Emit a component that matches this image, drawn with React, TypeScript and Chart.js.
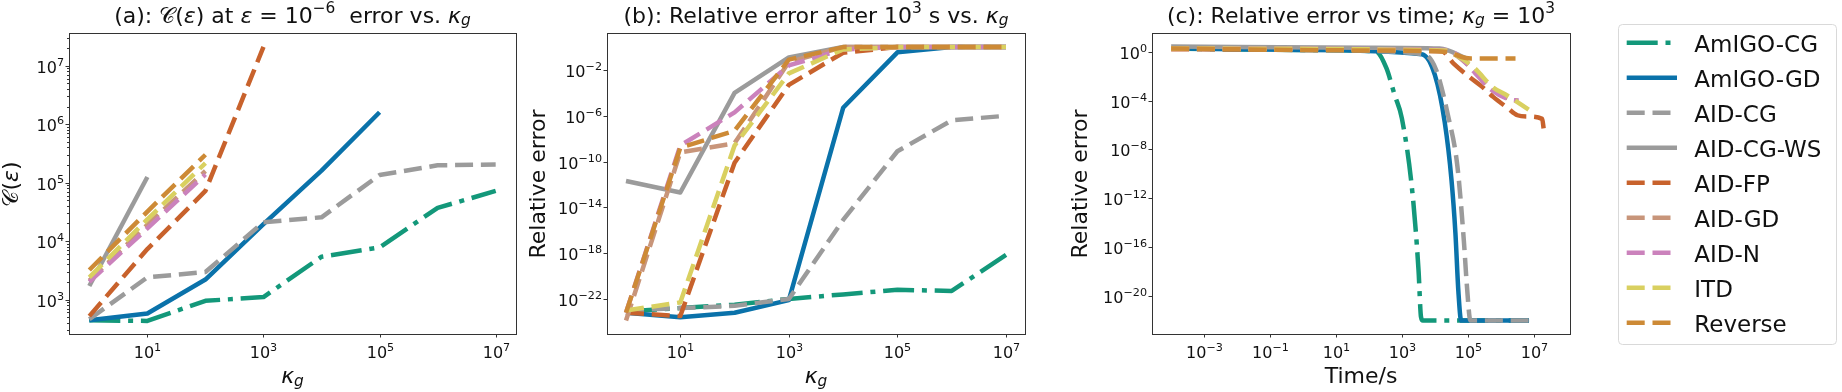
import React, { useEffect, useRef } from 'react';
import { Chart, registerables } from 'chart.js';

Chart.register(...registerables);

// ---------------- data ----------------
const seriesNames = ['AmIGO-CG', 'AmIGO-GD', 'AID-CG', 'AID-CG-WS', 'AID-FP', 'AID-GD', 'AID-N', 'ITD', 'Reverse'];
const seriesColors = ['#13987a', '#0a72aa', '#9b9b9b', '#9b9b9b', '#c8622c', '#c8957a', '#cb82bc', '#d9d060', '#cd8a36'];
const seriesStyles = ['dashdot', 'solid', 'dashed', 'solid', 'dashed', 'dashed', 'dashed', 'dashed', 'dashed'];

// panel (a): C(eps) vs kappa_g
const kappaG = [1, 10, 100, 1e3, 1e4, 1e5, 1e6, 1e7];
const costAmIGOCG = [440, 430, 950, 1100, 5400, 7800, 37000, 72000];
const costAmIGOGD = [440, 575, 2200, 19500, 160000, 1.6e6, null, null];
const costAIDCG = [460, 2400, 2950, 21000, 25500, 135000, 198000, 204000];
const costAIDCGWS = [1700, 125000, null, null, null, null, null, null];
const costAIDFP = [520, 7300, 72000, 2.1e7, null, null, null, null];
const costAIDGD = [2100, 19000, 158000, null, null, null, null, null];
const costAIDN = [2000, 16500, 138000, null, null, null, null, null];
const costITD = [2400, 23500, 215000, null, null, null, null, null];
const costReverse = [3200, 32000, 300000, null, null, null, null, null];

// panel (b): relative error after 1e3 s vs kappa_g
const errAmIGOCG = [7.9e-24, 1.6e-23, 3.2e-23, 1e-22, 2.5e-22, 6.3e-22, 5e-22, 7e-19];
const errAmIGOGD = [6.3e-24, 2.5e-24, 6.3e-24, 8e-23, 5e-6, 0.35, 1, 1];
const errAIDCG = [1e-23, 1.6e-23, 2.5e-23, 1e-22, 8e-16, 8e-10, 4e-7, 1e-6];
const errAIDCGWS = [2e-12, 2e-13, 1e-4, 0.125, 1, 1, 1, 1];
const errAIDFP = [6.3e-24, 3.2e-24, 8e-11, 5e-4, 0.32, 1, 1, 1];
const errAIDGD = [1.3e-24, 6.3e-10, 4e-9, 0.05, 1, 1, 1, 1];
const errAIDN = [6.3e-24, 2.5e-9, 2e-6, 0.025, 0.63, 1, 1, 1];
const errITD = [1e-23, 5e-23, 2.5e-9, 5e-3, 0.63, 1, 1, 1];
const errReverse = [6.3e-24, 1.6e-9, 5e-8, 0.08, 1, 1, 1, 1];

// panel (c): relative error vs time, kappa_g = 1e3
const tAmIGOCG = [1e-4, 1, 160, 340, 600, 1000, 2100, 3200, 3800, 4300, 7.2e6];
const eAmIGOCG = [1.8, 1.4, 1.1, 0.045, 3e-4, 3.5e-6, 2.5e-12, 1.3e-18, 2e-22, 1e-22, 1e-22];
const tAmIGOGD = [1e-4, 1, 4000, 1e4, 2e4, 3.2e4, 4.2e4, 5.2e4, 6.3e4, 7.2e6];
const eAmIGOGD = [1.9, 1.4, 0.63, 0.0126, 1.6e-6, 3.2e-11, 1.6e-15, 2e-20, 1e-22, 1e-22];
const tAIDCG = [1e-4, 1, 4600, 1.1e4, 2.5e4, 4.8e4, 7.6e4, 9.3e4, 1.2e5, 7.2e6];
const eAIDCG = [1.9, 1.4, 0.63, 0.032, 6.3e-6, 5e-10, 3.2e-16, 1e-19, 1e-22, 1e-22];
const tAIDCGWS = [1e-4, 100, 1.4e4, 1e5];
const eAIDCGWS = [2.7, 2.1, 1.8, 0.25];
const tAIDFP = [1e-4, 1.6e4, 3.8e4, 1.15e5, 2.8e5, 5.9e5, 1.6e6, 3.2e6, 6.3e6, 1.8e7, 2e7];
const eAIDFP = [1.6, 1.1, 0.1, 8e-3, 1.26e-3, 2e-4, 2.5e-5, 6.3e-6, 5e-6, 3.2e-6, 5e-7];
const tAIDGD = [1e-4, 2e4, 5e4, 1.6e5, 5e5, 2e6, 3.2e6];
const eAIDGD = [1.8, 1.26, 0.4, 0.025, 1e-3, 1.26e-4, 1e-4];
const tAIDN = [1e-4, 2e4, 5e4, 1.7e5, 5e5, 2.2e6, 3.5e6];
const eAIDN = [1.8, 1.4, 0.5, 0.017, 8e-4, 1.1e-4, 1e-4];
const tITD = [1e-4, 2e4, 4e4, 1.6e5, 5.6e5, 1.6e6, 7e6];
const eITD = [1.8, 1.26, 0.63, 0.045, 1.3e-3, 2.5e-4, 1.8e-5];
const tReverse = [1e-4, 100, 2e4, 8e4, 1.26e5, 2.8e6];
const eReverse = [1.8, 1.26, 1, 0.32, 0.28, 0.28];

// tick exponents
const aXTicks = [1, 3, 5, 7];
const aYTicks = [3, 4, 5, 6, 7];
const bXTicks = [1, 3, 5, 7];
const bYTicks = [-2, -6, -10, -14, -18, -22];
const cXTicks = [-3, -1, 1, 3, 5, 7];
const cYTicks = [0, -4, -8, -12, -16, -20];

// ---------------- styling helpers ----------------
const FONT = '"DejaVu Sans", sans-serif';
const INK = '#111111';
const SPINE = '#333333';
const DASHES: Record<string, number[]> = { solid: [], dashed: [18, 7.8], dashdot: [31, 7.8, 5, 7.8] };

type Seg = { t: string; it?: boolean; sup?: boolean; sub?: boolean };

function segFont(s: Seg, size: number) {
  const sz = s.sup || s.sub ? size * 0.7 : size;
  return `${s.it ? 'italic ' : ''}${sz}px ${FONT}`;
}
function richWidth(ctx: CanvasRenderingContext2D, segs: Seg[], size: number) {
  let w = 0;
  for (const s of segs) {
    ctx.font = segFont(s, size);
    w += ctx.measureText(s.t).width;
  }
  return w;
}
function drawRich(ctx: CanvasRenderingContext2D, segs: Seg[], size: number, x: number, y: number, align: string) {
  const w = richWidth(ctx, segs, size);
  let cx = align === 'center' ? x - w / 2 : align === 'right' ? x - w : x;
  ctx.textAlign = 'left';
  ctx.textBaseline = 'alphabetic';
  for (const s of segs) {
    ctx.font = segFont(s, size);
    const dy = s.sup ? -size * 0.42 : s.sub ? size * 0.12 : 0;
    ctx.fillText(s.t, cx, y + dy);
    cx += ctx.measureText(s.t).width;
  }
}
function expSegs(e: number): Seg[] {
  return [{ t: '10' }, { t: (e < 0 ? '\u2212' : '') + Math.abs(e), sup: true }];
}

type DecorOpts = {
  title: Seg[];
  xLabel: Seg[];
  yLabel: Seg[];
  yLabelX: number;
  xTicks: number[];
  yTicks: number[];
  yMinor?: [number, number];
};

function decorPlugin(o: DecorOpts) {
  return {
    id: 'decor',
    afterDraw(chart: any) {
      const ctx: CanvasRenderingContext2D = chart.ctx;
      const { left, right, top, bottom } = chart.chartArea;
      const xs = chart.scales.x;
      const ys = chart.scales.y;
      ctx.save();
      ctx.setLineDash([]);
      ctx.strokeStyle = SPINE;
      ctx.lineWidth = 1;
      if (o.yMinor) {
        for (let k = o.yMinor[0]; k <= o.yMinor[1]; k++) {
          for (let m = 2; m <= 9; m++) {
            const v = m * Math.pow(10, k);
            if (v < ys.min || v > ys.max) continue;
            const py = Math.round(ys.getPixelForValue(v)) + 0.5;
            ctx.beginPath();
            ctx.moveTo(left - 2, py);
            ctx.lineTo(left, py);
            ctx.stroke();
          }
        }
      }
      ctx.fillStyle = INK;
      for (const e of o.xTicks) {
        const px = Math.round(xs.getPixelForValue(Math.pow(10, e))) + 0.5;
        ctx.beginPath();
        ctx.moveTo(px, bottom);
        ctx.lineTo(px, bottom + 3.5);
        ctx.stroke();
        drawRich(ctx, expSegs(e), 16, px, bottom + 23.5, 'center');
      }
      for (const e of o.yTicks) {
        const py = Math.round(ys.getPixelForValue(Math.pow(10, e))) + 0.5;
        ctx.beginPath();
        ctx.moveTo(left - 3.5, py);
        ctx.lineTo(left, py);
        ctx.stroke();
        drawRich(ctx, expSegs(e), 16, left - 5, py + 6, 'right');
      }
      ctx.strokeRect(left + 0.5, top + 0.5, right - left, bottom - top);
      drawRich(ctx, o.title, 22, (left + right) / 2, 22.5, 'center');
      drawRich(ctx, o.xLabel, 22, (left + right) / 2, 383, 'center');
      ctx.save();
      ctx.translate(o.yLabelX, 184);
      ctx.rotate(-Math.PI / 2);
      drawRich(ctx, o.yLabel, 22, 0, 0, 'center');
      ctx.restore();
      ctx.restore();
    },
  };
}

const legendPlugin = {
  id: 'legendBox',
  afterDraw(chart: any) {
    const ctx: CanvasRenderingContext2D = chart.ctx;
    const bx = 558, by = 24, bw = 218, bh = 320;
    ctx.save();
    ctx.fillStyle = 'rgba(255,255,255,0.85)';
    ctx.strokeStyle = '#d9d9d9';
    ctx.lineWidth = 1;
    ctx.setLineDash([]);
    ctx.beginPath();
    (ctx as any).roundRect(bx + 0.5, by + 0.5, bw, bh, 4);
    ctx.fill();
    ctx.stroke();
    chart.data.datasets.forEach((ds: any, i: number) => {
      const cy = 42.7 + i * 35;
      ctx.strokeStyle = ds.borderColor;
      ctx.lineWidth = 4.5;
      ctx.lineCap = 'butt';
      ctx.setLineDash(ds.borderDash || []);
      ctx.beginPath();
      ctx.moveTo(566.7, cy);
      ctx.lineTo(617, cy);
      ctx.stroke();
      ctx.setLineDash([]);
      ctx.fillStyle = INK;
      ctx.font = `23px ${FONT}`;
      ctx.textAlign = 'left';
      ctx.textBaseline = 'alphabetic';
      ctx.fillText(ds.label, 634.3, cy + 9.5);
    });
    ctx.restore();
  },
};

function makeDataset(i: number, xs: number[], ys: (number | null)[], smooth: boolean) {
  const pts: { x: number; y: number }[] = [];
  xs.forEach((x, j) => {
    const y = ys[j];
    if (y !== null && y !== undefined) pts.push({ x, y });
  });
  return {
    label: seriesNames[i],
    data: pts,
    borderColor: seriesColors[i],
    backgroundColor: seriesColors[i],
    borderWidth: 4.5,
    borderDash: DASHES[seriesStyles[i]],
    borderCapStyle: 'butt',
    borderJoinStyle: 'round',
    pointRadius: 0,
    fill: false,
    tension: 0,
    cubicInterpolationMode: smooth ? 'monotone' : 'default',
    order: 8 - i,
  };
}

function makeConfig(datasets: any[], xr: [number, number], yr: [number, number], padding: any, plugins: any[]) {
  return {
    type: 'line',
    data: { datasets },
    options: {
      responsive: false,
      animation: false,
      events: [],
      layout: { padding },
      plugins: { legend: { display: false }, title: { display: false }, tooltip: { enabled: false } },
      scales: {
        x: { type: 'logarithmic', min: Math.pow(10, xr[0]), max: Math.pow(10, xr[1]), display: false, bounds: 'data' },
        y: { type: 'logarithmic', min: Math.pow(10, yr[0]), max: Math.pow(10, yr[1]), display: false, bounds: 'data' },
      },
    },
    plugins,
  };
}

const kap: Seg[] = [{ t: '\u03ba', it: true }, { t: 'g', it: true, sub: true }];

function configA() {
  const ys = [costAmIGOCG, costAmIGOGD, costAIDCG, costAIDCGWS, costAIDFP, costAIDGD, costAIDN, costITD, costReverse];
  const datasets = ys.map((y, i) => makeDataset(i, kappaG, y, false));
  return makeConfig(datasets, [-0.35, 7.35], [2.41, 7.56], { left: 69, top: 33, right: 4, bottom: 58 }, [
    decorPlugin({
      title: [
        { t: '(a): ' },
        { t: '\u{1D49E}' },
        { t: '(' },
        { t: '\u03b5', it: true },
        { t: ') at ' },
        { t: '\u03b5', it: true },
        { t: ' = 10' },
        { t: '\u22126', sup: true },
        { t: '  error vs. ' },
        ...kap,
      ],
      xLabel: kap,
      yLabel: [{ t: '\u{1D49E}' }, { t: '(' }, { t: '\u03b5', it: true }, { t: ')' }],
      yLabelX: 18,
      xTicks: aXTicks,
      yTicks: aYTicks,
      yMinor: [2, 7],
    }),
  ]);
}

function configB() {
  const ys = [errAmIGOCG, errAmIGOGD, errAIDCG, errAIDCGWS, errAIDFP, errAIDGD, errAIDN, errITD, errReverse];
  const datasets = ys.map((y, i) => makeDataset(i, kappaG, y, false));
  return makeConfig(datasets, [-0.35, 7.35], [-25.06, 1.23], { left: 87, top: 33, right: 35, bottom: 58 }, [
    decorPlugin({
      title: [{ t: '(b): Relative error after 10' }, { t: '3', sup: true }, { t: ' s vs. ' }, ...kap],
      xLabel: kap,
      yLabel: [{ t: 'Relative error' }],
      yLabelX: 25,
      xTicks: bXTicks,
      yTicks: bYTicks,
    }),
  ]);
}

function configC() {
  const ts = [tAmIGOCG, tAmIGOGD, tAIDCG, tAIDCGWS, tAIDFP, tAIDGD, tAIDN, tITD, tReverse];
  const es = [eAmIGOCG, eAmIGOGD, eAIDCG, eAIDCGWS, eAIDFP, eAIDGD, eAIDN, eITD, eReverse];
  const datasets = ts.map((t, i) => makeDataset(i, t, es[i], true));
  return makeConfig(datasets, [-4.58, 8.1], [-23.1, 1.53], { left: 92, top: 33, right: 272, bottom: 58 }, [
    decorPlugin({
      title: [{ t: '(c): Relative error vs time; ' }, ...kap, { t: ' = 10' }, { t: '3', sup: true }],
      xLabel: [{ t: 'Time/s' }],
      yLabel: [{ t: 'Relative error' }],
      yLabelX: 27,
      xTicks: cXTicks,
      yTicks: cYTicks,
    }),
    legendPlugin,
  ]);
}

function Panel({ make, left, width }: { make: () => any; left: number; width: number }) {
  const ref = useRef<HTMLCanvasElement>(null);
  useEffect(() => {
    const chart = new Chart(ref.current as HTMLCanvasElement, make());
    return () => chart.destroy();
  }, []);
  return (
    <canvas
      ref={ref}
      width={width}
      height={392}
      style={{ position: 'absolute', left, top: 0, width, height: 392 }}
    />
  );
}

export default function App() {
  return (
    <div style={{ position: 'absolute', left: 0, top: 0, width: 1842, height: 392, background: '#ffffff', overflow: 'hidden' }}>
      <Panel make={configA} left={0} width={520} />
      <Panel make={configB} left={520} width={540} />
      <Panel make={configC} left={1060} width={782} />
    </div>
  );
}
